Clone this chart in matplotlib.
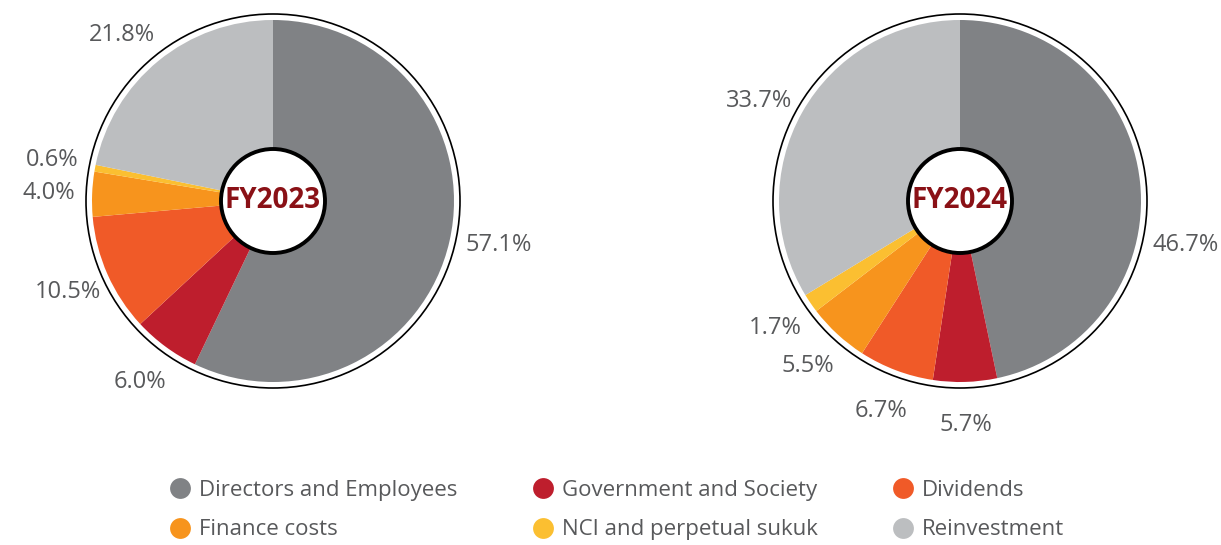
import numpy as np
import matplotlib.pyplot as plt
from matplotlib.patches import Circle
from matplotlib.lines import Line2D

# data
categories = ['Directors and Employees', 'Government and Society', 'Dividends',
              'Finance costs', 'NCI and perpetual sukuk', 'Reinvestment']
fy2023 = [57.1, 6.0, 10.5, 4.0, 0.6, 21.8]
fy2024 = [46.7, 5.7, 6.7, 5.5, 1.7, 33.7]
years = ['FY2023', 'FY2024']

colors = ['#808285', '#BE1E2D', '#F05A28', '#F7941D', '#FBBF31', '#BCBEC0']
text_col = '#58595B'

W, H = 1221, 545
fig = plt.figure(figsize=(W / 100, H / 100), dpi=100)
ax = fig.add_axes([0, 0, 1, 1])

R = 181
centers = [(273, H - 201), (960, H - 201)]

def draw_pie(vals, center, title):
    wedges, _ = ax.pie(vals, colors=colors, startangle=90, counterclock=False,
                       radius=R, center=center, wedgeprops=dict(linewidth=0))
    ax.add_patch(Circle(center, R + 6, fill=False, ec='black', lw=1.2))
    ax.add_patch(Circle(center, 52, fc='white', ec='black', lw=2.8, zorder=5))
    ax.text(center[0], center[1], title, ha='center', va='center', fontsize=20,
            fontweight='bold', color='#8A1116', family='Open Sans', zorder=6)
    for i, (w, v) in enumerate(zip(wedges, vals)):
        ang = (w.theta1 + w.theta2) / 2
        dist = 1.24 * R
        if i == 0:
            # the big slice label sits lower right in the original
            ang, dist = -11, 1.27 * R
        elif i == len(vals) - 1:
            ang += 3
        x = center[0] + dist * np.cos(np.radians(ang))
        y = center[1] + dist * np.sin(np.radians(ang))
        ax.text(x, y, f'{v:.1f}%', ha='center', va='center', fontsize=17,
                color=text_col, family='Open Sans')

draw_pie(fy2023, centers[0], years[0])
draw_pie(fy2024, centers[1], years[1])

ax.set_xlim(0, W)
ax.set_ylim(0, H)
ax.set_aspect('equal')
ax.axis('off')

# legend, row-wise order -> reorder for column filling
handles = [Line2D([], [], marker='o', ls='none', ms=15, mfc=c, mec='none') for c in colors]
order = [0, 3, 1, 4, 2, 5]
leg = fig.legend([handles[i] for i in order], [categories[i] for i in order],
                 ncol=3, loc='center', bbox_to_anchor=(616 / W, 1 - 510 / H),
                 frameon=False, handletextpad=0.3, columnspacing=3.3,
                 labelspacing=0.85, handlelength=1.1,
                 prop={'family': 'Open Sans', 'size': 16})
for t in leg.get_texts():
    t.set_color(text_col)

fig.savefig('out.png', dpi=100)
